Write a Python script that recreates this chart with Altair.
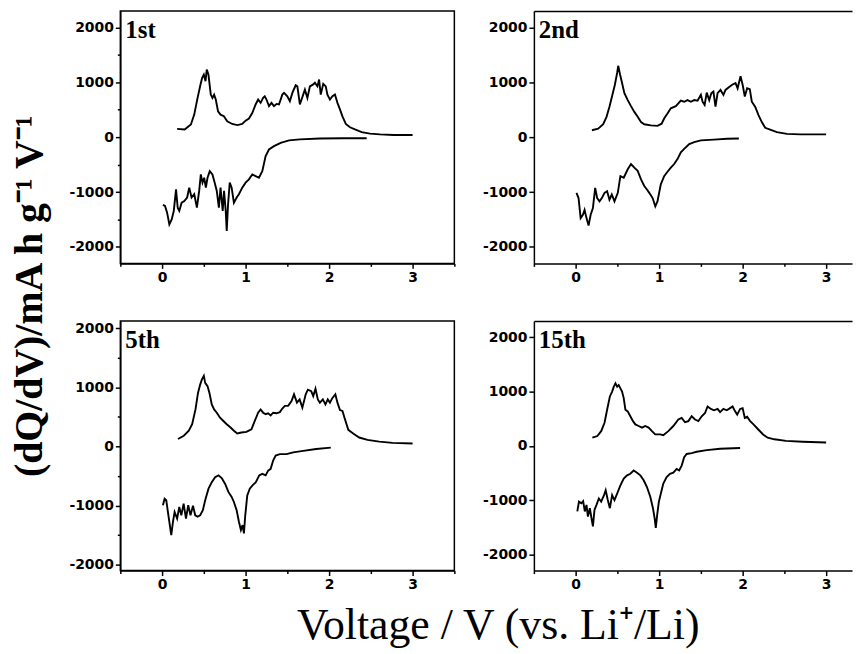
import altair as alt
import pandas as pd

# ---------------- data ----------------
labels = ["1st", "2nd", "5th", "15th"]

# 1st cycle
v1c = [0.18,0.27,0.345,0.385,0.425,0.46,0.48,0.50,0.52,0.535,0.555,0.583,0.603,0.623,0.643,0.67,0.70,0.74,0.78,0.84,0.90,0.96,1.0,1.04,1.08,1.12,1.15,1.18,1.21,1.23,1.25,1.28,1.31,1.34,1.37,1.40,1.44,1.46,1.50,1.53,1.56,1.60,1.62,1.65,1.69,1.71,1.74,1.77,1.81,1.83,1.86,1.88,1.90,1.93,1.96,1.98,2.01,2.04,2.07,2.10,2.13,2.16,2.20,2.25,2.31,2.39,2.49,2.61,2.77,3.0]
q1c = [150,140,230,410,715,960,1080,1140,1020,1230,1140,775,715,775,685,470,410,380,290,240,220,240,300,340,440,595,685,625,715,745,685,565,625,565,605,595,775,805,745,655,805,945,925,595,775,865,715,925,960,990,925,1050,775,970,925,775,685,745,775,625,505,380,240,180,140,90,65,50,40,40]
v1d = [0.01,0.035,0.06,0.087,0.115,0.14,0.167,0.187,0.206,0.234,0.266,0.30,0.325,0.353,0.385,0.417,0.444,0.464,0.484,0.504,0.524,0.544,0.571,0.603,0.63,0.655,0.68,0.70,0.726,0.742,0.762,0.774,0.79,0.81,0.833,0.86,0.893,0.92,0.96,1.0,1.04,1.08,1.12,1.16,1.20,1.24,1.28,1.34,1.42,1.52,1.65,1.89,2.17,2.45]
q1d = [-1235,-1255,-1375,-1590,-1500,-1345,-950,-1285,-1345,-1195,-1165,-1100,-920,-1100,-1040,-1285,-980,-680,-830,-740,-920,-740,-620,-680,-830,-980,-1285,-920,-1345,-980,-1345,-1710,-1225,-830,-920,-1195,-1100,-1040,-920,-830,-770,-680,-710,-740,-620,-345,-225,-165,-105,-60,-40,-25,-20,-20]

# 2nd cycle
v2c = [0.195,0.27,0.33,0.37,0.405,0.445,0.47,0.497,0.51,0.532,0.556,0.584,0.624,0.663,0.703,0.743,0.783,0.822,0.90,0.98,1.03,1.06,1.10,1.14,1.20,1.26,1.30,1.34,1.38,1.42,1.46,1.50,1.52,1.545,1.57,1.60,1.625,1.65,1.675,1.70,1.735,1.77,1.795,1.835,1.875,1.915,1.94,1.975,2.0,2.026,2.054,2.086,2.11,2.15,2.19,2.23,2.27,2.33,2.41,2.53,2.69,3.0]
q2c = [125,155,235,370,555,800,955,1170,1300,1140,985,800,675,565,460,370,275,235,215,205,245,340,430,525,565,665,645,675,645,675,665,770,645,585,810,675,800,830,555,800,860,770,860,910,955,985,890,1110,955,740,890,875,645,555,400,275,170,135,90,60,50,50]
v2d = [0.01,0.035,0.06,0.087,0.107,0.13,0.155,0.18,0.207,0.234,0.258,0.286,0.314,0.346,0.377,0.405,0.433,0.465,0.505,0.536,0.576,0.624,0.663,0.703,0.743,0.783,0.822,0.854,0.882,0.922,0.954,0.98,1.02,1.06,1.10,1.14,1.18,1.22,1.26,1.30,1.36,1.42,1.50,1.655,1.815,1.955]
q2d = [-1015,-1110,-1475,-1415,-1325,-1475,-1610,-1415,-1290,-925,-1110,-1170,-1110,-1015,-985,-1140,-1045,-1170,-1015,-710,-740,-585,-490,-555,-615,-770,-890,-955,-1015,-1110,-1260,-1170,-860,-710,-630,-555,-490,-400,-275,-215,-125,-90,-60,-45,-30,-25]

# 5th cycle
v5c = [0.19,0.26,0.32,0.36,0.40,0.43,0.456,0.476,0.50,0.516,0.544,0.567,0.595,0.623,0.655,0.694,0.734,0.774,0.82,0.86,0.90,0.95,1.01,1.07,1.11,1.15,1.18,1.21,1.24,1.27,1.30,1.33,1.37,1.41,1.44,1.47,1.51,1.55,1.58,1.615,1.647,1.68,1.72,1.746,1.786,1.81,1.837,1.865,1.89,1.925,1.956,1.984,2.01,2.04,2.075,2.10,2.13,2.16,2.19,2.23,2.28,2.36,2.46,2.60,2.76,3.0]
q5c = [125,180,265,375,625,905,1045,1130,1195,1075,1020,905,710,625,570,485,430,375,320,265,220,235,245,290,430,570,625,570,545,560,525,570,560,580,640,685,685,765,880,740,795,655,880,960,935,850,975,795,740,795,710,795,740,820,880,740,615,600,460,280,225,150,110,80,60,50]
v5d = [0.01,0.03,0.05,0.07,0.09,0.11,0.13,0.15,0.18,0.206,0.23,0.258,0.286,0.313,0.34,0.37,0.397,0.425,0.456,0.488,0.516,0.556,0.595,0.635,0.675,0.714,0.754,0.794,0.833,0.86,0.893,0.92,0.944,0.964,0.98,0.996,1.02,1.05,1.083,1.123,1.163,1.20,1.24,1.27,1.30,1.33,1.36,1.41,1.49,1.57,1.69,1.845,2.02]
q5d = [-995,-885,-910,-1110,-1305,-1500,-1275,-1110,-1220,-1025,-1165,-970,-1220,-995,-1165,-1005,-1165,-1190,-1165,-1080,-910,-715,-605,-520,-490,-535,-630,-770,-855,-940,-1080,-1275,-1415,-1330,-1470,-1165,-830,-715,-660,-605,-490,-465,-490,-410,-380,-240,-155,-130,-130,-100,-75,-45,-20]

# 15th cycle
v15c = [0.2,0.26,0.306,0.346,0.377,0.41,0.437,0.457,0.477,0.497,0.516,0.536,0.556,0.576,0.596,0.624,0.655,0.687,0.715,0.755,0.795,0.834,0.874,0.914,0.953,1.013,1.05,1.11,1.17,1.23,1.27,1.31,1.35,1.39,1.43,1.47,1.51,1.55,1.58,1.62,1.657,1.70,1.73,1.77,1.81,1.85,1.88,1.91,1.935,1.97,2.0,2.026,2.054,2.09,2.13,2.185,2.245,2.30,2.38,2.52,2.72,3.0]
q15c = [150,180,270,425,665,910,1000,1090,1150,1090,1120,1060,1000,880,665,635,545,455,395,365,335,365,335,270,210,210,195,270,365,485,515,435,455,545,485,455,545,605,725,680,655,680,620,680,655,695,725,635,575,680,695,515,535,455,395,305,210,150,120,90,75,60]
v15d = [0.02,0.04,0.068,0.09,0.11,0.13,0.147,0.17,0.19,0.207,0.226,0.25,0.278,0.306,0.34,0.36,0.385,0.41,0.437,0.465,0.497,0.536,0.576,0.616,0.655,0.695,0.735,0.775,0.815,0.854,0.894,0.926,0.946,0.96,0.977,0.997,1.025,1.05,1.09,1.13,1.17,1.21,1.24,1.27,1.30,1.33,1.39,1.45,1.57,1.73,1.97]
q15d = [-1210,-1030,-1060,-1020,-1210,-1090,-1305,-1150,-1335,-1485,-1180,-1090,-970,-1030,-910,-820,-1000,-1150,-910,-1000,-880,-730,-605,-545,-515,-455,-495,-545,-635,-760,-940,-1150,-1335,-1515,-1270,-1030,-850,-695,-575,-515,-495,-425,-455,-365,-210,-150,-135,-110,-80,-55,-40]

y_domains = [[-2300, 2300], [-2300, 2300], [-2100, 2120], [-2300, 2300]]
x_domain_left = [-0.5, 3.5]
x_domain_right = [-0.5, 3.31]   # right column is cut off at the page edge
y_ticks = [-2000, -1500, -1000, -500, 0, 500, 1000, 1500, 2000]
x_ticks = [-0.5, 0, 0.5, 1, 1.5, 2, 2.5, 3, 3.5]

series = [(v1c, q1c, v1d, q1d), (v2c, q2c, v2d, q2d),
          (v5c, q5c, v5d, q5d), (v15c, q15c, v15d, q15d)]

W_LEFT, W_RIGHT = 336, 320
HEIGHTS = [254, 254, 251, 251]


def panel(idx):
    vc, qc, vd, qd = series[idx]
    right = idx in (1, 3)
    xdom = x_domain_right if right else x_domain_left
    xt = [t for t in x_ticks if xdom[0] <= t <= xdom[1]]
    df = pd.concat([
        pd.DataFrame({"V": vc, "Q": qc, "branch": "charge"}),
        pd.DataFrame({"V": vd, "Q": qd, "branch": "discharge"}),
    ])
    xaxis = alt.Axis(
        values=xt, title=None, grid=False, orient="bottom",
        labelExpr="datum.value % 1 === 0 ? '' + datum.value : ''",
        tickSize={"condition": {"test": "datum.value % 1 !== 0", "value": 3}, "value": 5},
    )
    yaxis = alt.Axis(
        values=y_ticks, title=None, grid=False, orient="left",
        labelExpr="datum.value % 1000 === 0 ? (datum.value < 0 ? '-' + abs(datum.value) : '' + datum.value) : ''",
        tickSize={"condition": {"test": "datum.value % 1000 !== 0", "value": 3}, "value": 5},
    )
    xs = alt.Scale(domain=xdom, nice=False, zero=False)
    ys = alt.Scale(domain=y_domains[idx], nice=False, zero=False)
    lines = alt.Chart(df).mark_line(color="black", strokeWidth=1.9).encode(
        x=alt.X("V:Q", scale=xs, axis=xaxis),
        y=alt.Y("Q:Q", scale=ys, axis=yaxis),
        detail="branch:N",
    )
    lab = alt.Chart(pd.DataFrame({"t": [labels[idx]]})).mark_text(
        align="left", baseline="alphabetic", font="Liberation Serif",
        fontWeight="bold", fontSize=25, color="black",
    ).encode(x=alt.value(5), y=alt.value(27), text="t:N")
    layers = [lines, lab]
    props = {"width": W_RIGHT if right else W_LEFT, "height": HEIGHTS[idx]}
    if right:
        # frame has no right edge (cut off); draw the top edge with an axis domain
        top = alt.Chart(df).mark_line(opacity=0).encode(
            x=alt.X("V:Q", scale=xs, axis=alt.Axis(orient="top", ticks=False, labels=False,
                                                    title=None, grid=False, domainWidth=1.5,
                                                    minExtent=0, maxExtent=0, labelPadding=0)),
            y=alt.Y("Q:Q", scale=ys),
            detail="branch:N",
        )
        layers.append(top)
        props["view"] = alt.ViewBackground(stroke="transparent")
    ch = alt.layer(*layers).properties(**props)
    if right:
        ch = ch.resolve_axis(x="independent")
    return ch


row1 = alt.hconcat(panel(0), panel(1), spacing=25)
row2 = alt.hconcat(panel(2), panel(3), spacing=25)
grid = alt.vconcat(row1, row2, spacing=35).properties(
    title=alt.TitleParams(
        "Voltage / V (vs. Li\u207a/Li)", orient="bottom", anchor="middle",
        font="Liberation Serif", fontSize=44, fontWeight="normal", color="black",
        offset=12, dx=38,
    )
)
chart = alt.hconcat(grid).properties(
    padding={"left": 2, "top": 0, "right": 0, "bottom": 0},
    title=alt.TitleParams(
        "(dQ/dV)/mA h g\u207b\u00b9 V\u207b\u00b9", orient="left", anchor="middle",
        font="Liberation Serif", fontSize=40, fontWeight="bold", color="black",
        offset=18, dx=33,
    ),
).configure_view(stroke="black", strokeWidth=1.5).configure_axis(
    domainColor="black", domainWidth=1.5, tickColor="black", tickWidth=1.5,
    labelFont="DejaVu Sans", labelFontWeight="bold", labelFontSize=14,
    labelColor="black", labelPadding=2,
)

chart.save("out.html", embed_options={"renderer": "svg", "actions": False})
